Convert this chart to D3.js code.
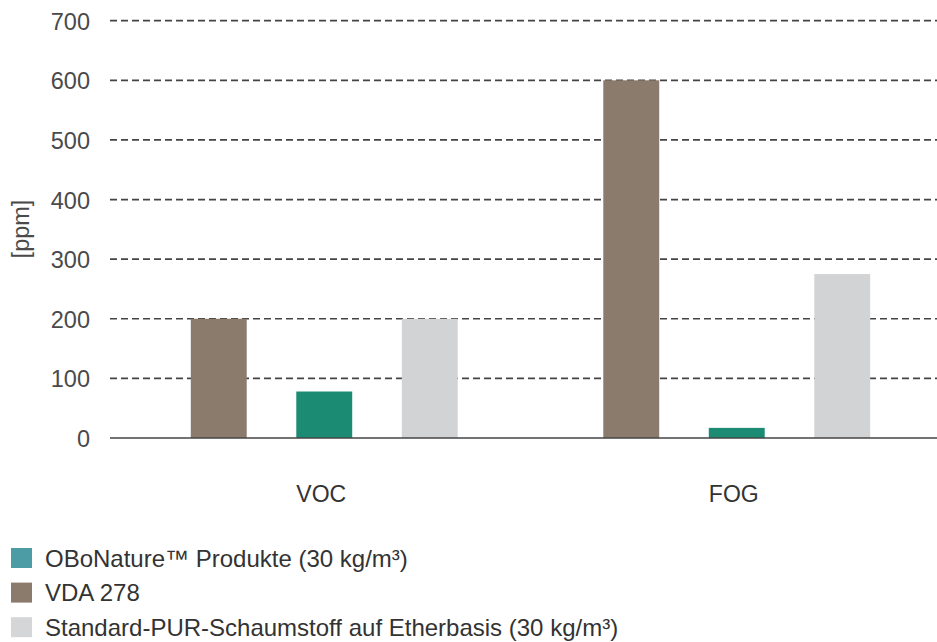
<!DOCTYPE html>
<html><head><meta charset="utf-8">
<script src="https://cdn.jsdelivr.net/npm/d3@7"></script>
<style>body{margin:0;background:#fff}svg{display:block;font-family:"Liberation Sans",Arial,sans-serif}</style>
</head><body><svg id="c" width="937" height="642"></svg>
<script>
const categories = ["VOC", "FOG"];
const seriesNames = ["VDA 278", "OBoNature Produkte", "Standard-PUR-Schaumstoff"];
const vdaValues = [200, 600];
const oboValues = [78, 17];
const standardValues = [200, 275];
const yTicks = [0, 100, 200, 300, 400, 500, 600, 700];
const barColors = ["#8a7b6d", "#1b8b74", "#d2d3d5"];
const legendLabels = ["OBoNature\u2122 Produkte (30 kg/m\u00B3)", "VDA 278", "Standard-PUR-Schaumstoff auf Etherbasis (30 kg/m\u00B3)"];
const legendColors = ["#4b9ca5", "#8a7b6d", "#d5d6d8"];

const svg = d3.select("#c");
const y = d3.scaleLinear().domain([0, 700]).range([438, 20.7]);
const x0 = d3.scaleBand().domain(categories).range([118, 943]);
const x1 = d3.scaleBand().domain(seriesNames).range([0, x0.bandwidth()]).paddingInner(0.47).paddingOuter(0.69);
const gridX = [110, 937];
const FONT = "Liberation Sans, Arial, sans-serif";

// grid
svg.append("g").selectAll("line").data(yTicks.filter(d => d > 0)).join("line")
  .attr("x1", gridX[0]).attr("x2", gridX[1])
  .attr("y1", d => y(d)).attr("y2", d => y(d))
  .attr("stroke", "#444").attr("stroke-width", 1.7).attr("stroke-dasharray", "7,4");

// y axis labels
const yAxis = d3.axisLeft(y).tickValues(yTicks).tickSize(0).tickPadding(0);
const ya = svg.append("g").attr("transform", "translate(90,0)").call(yAxis);
ya.select(".domain").remove();
ya.selectAll("text").attr("font-size", 23.5).attr("fill", "#4a4a4a").attr("font-family", FONT).attr("dy", "0.36em");

svg.append("text").attr("transform", "translate(29,229) rotate(-90)").attr("text-anchor", "middle")
  .attr("font-size", 23.5).attr("fill", "#4a4a4a").text("[ppm]");

// bars
const rows = categories.map((c, i) => ({cat: c, vals: [vdaValues[i], oboValues[i], standardValues[i]]}));
const g = svg.append("g").selectAll("g").data(rows).join("g")
  .attr("transform", d => `translate(${x0(d.cat)},0)`);
g.selectAll("rect").data(d => d.vals.map((v, j) => ({s: seriesNames[j], v, j}))).join("rect")
  .attr("x", d => x1(d.s)).attr("width", x1.bandwidth())
  .attr("y", d => y(d.v)).attr("height", d => y(0) - y(d.v))
  .attr("fill", d => barColors[d.j]);

// baseline
svg.append("line").attr("x1", gridX[0]).attr("x2", gridX[1]).attr("y1", y(0)).attr("y2", y(0))
  .attr("stroke", "#444").attr("stroke-width", 1.7);

// x labels
const xAxis = d3.axisBottom(x0).tickSize(0).tickPadding(0);
const xa = svg.append("g").attr("transform", "translate(-3,494)").call(xAxis);
xa.select(".domain").remove();
xa.selectAll("text").attr("font-size", 23).attr("fill", "#333").attr("font-family", FONT).attr("dy", "0.36em");

// legend
const lg = svg.append("g").selectAll("g").data(legendLabels).join("g")
  .attr("transform", (d, i) => `translate(11,${548 + i * 34.6})`);
lg.append("rect").attr("width", 21).attr("height", 20).attr("fill", (d, i) => legendColors[i]);
lg.append("text").attr("x", 34).attr("y", 10).attr("dy", "0.36em").attr("font-size", 24).attr("fill", "#333").text(d => d);
</script></body></html>
